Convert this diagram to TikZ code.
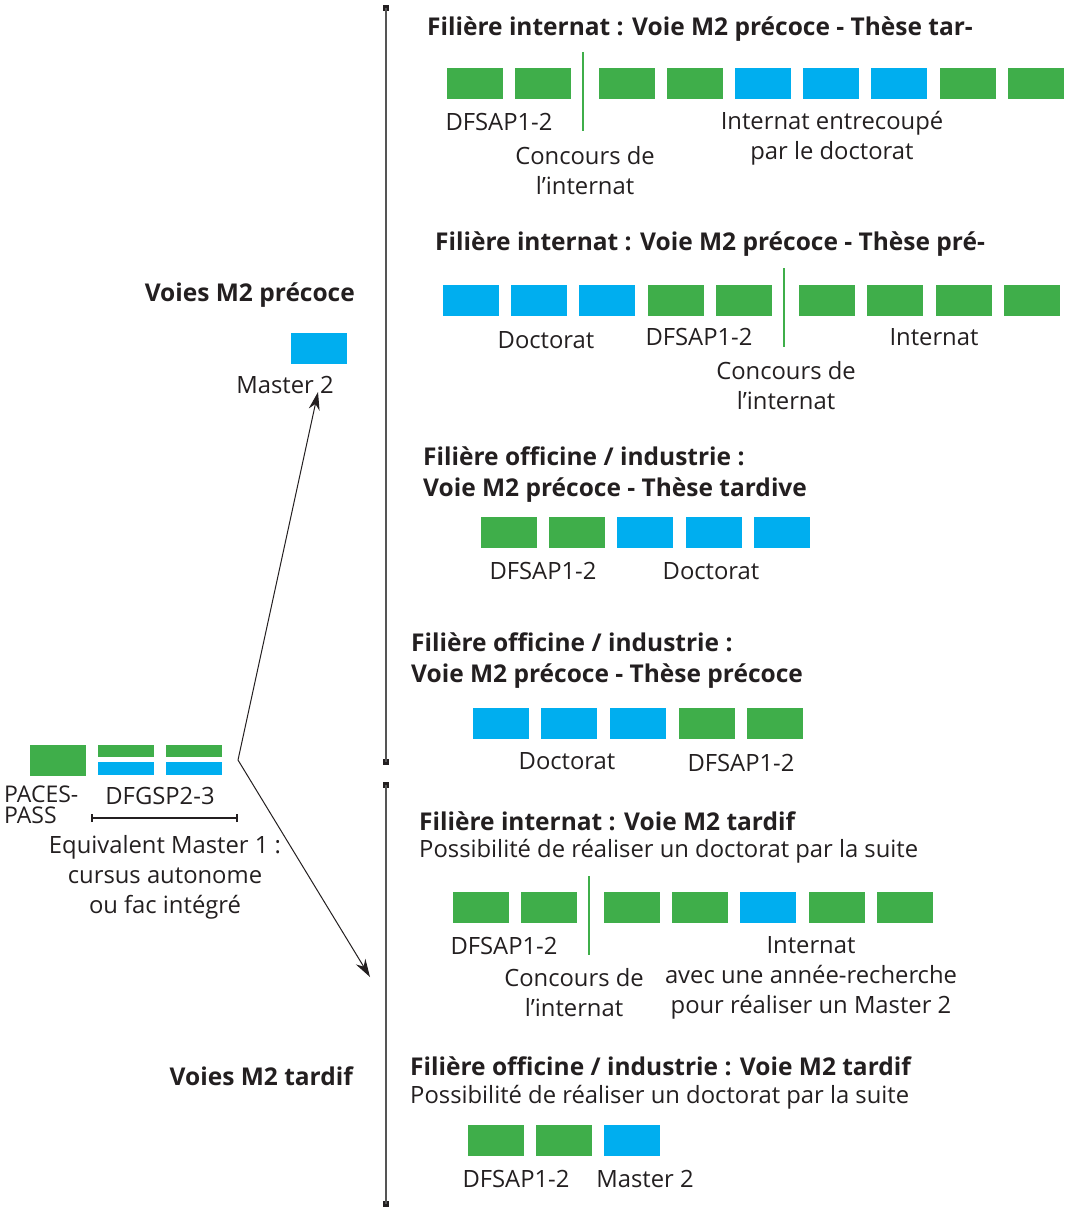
\documentclass[tikz,border=0pt]{standalone}
\usepackage{fontspec}
\setmainfont{Open Sans}
\usetikzlibrary{arrows.meta}
\definecolor{gr}{HTML}{3FAE4A}
\definecolor{bl}{HTML}{00AEEF}
\definecolor{tx}{HTML}{231F20}
\definecolor{vl}{HTML}{555555}
\begin{document}
\begin{tikzpicture}[x=1pt,y=-1pt,
  gbox/.style={fill=gr,minimum width=56pt,minimum height=31pt,inner sep=0pt,anchor=north west},
  bbox/.style={fill=bl,minimum width=56pt,minimum height=31pt,inner sep=0pt,anchor=north west},
  lab/.style={text=tx,inner sep=0pt,align=center,font=\fontsize{23.8}{30}\selectfont},
  ttl/.style={text=tx,inner sep=0pt,anchor=west,align=left,yshift=-2.5pt,font=\fontsize{24.5}{31}\selectfont\bfseries},
  sub/.style={text=tx,inner sep=0pt,anchor=west,align=left,yshift=-2.5pt,font=\fontsize{23.8}{31}\selectfont},
  sep/.style={draw=gr,line width=2pt},
  arr/.style={draw=tx,line width=1pt,-{Stealth[length=18pt,width=11pt]}},
  endsq/.style={fill=tx,minimum size=6pt,inner sep=0pt}
]
\useasboundingbox (0,0) rectangle (1071,1207);

% vertical divider
\node[endsq] (vt) at (386,8) {};
\node[endsq] (vm1) at (386,762) {};
\node[endsq] (vm2) at (386,785) {};
\node[endsq] (vb) at (386,1204) {};
\draw[vl,line width=2pt] (vt.center) -- (vm1.center);
\draw[vl,line width=2pt] (vm2.center) -- (vb.center);

% left part
\node[gbox,minimum height=31pt] (paces) at (30,745) {};
\node[gbox,minimum height=12pt] (s1g) at (98,745) {};
\node[bbox,minimum height=13pt] (s1b) at (98,762) {};
\node[gbox,minimum height=12pt] (s2g) at (166,745) {};
\node[bbox,minimum height=13pt] (s2b) at (166,762) {};
\node[lab,anchor=west,align=left,font=\fontsize{23}{21}\selectfont] (pacesl) at (4,805) {PACES-\\PASS};
\node[lab] (dfgsp) at (160,796) {DFGSP2-3};
\coordinate (brl) at (92,818);
\coordinate (brr) at (237,818);
\draw[tx,line width=1.3pt] (brl) -- (brr);
\draw[tx,line width=1.3pt] ([yshift=-4pt]brl) -- ([yshift=4pt]brl);
\draw[tx,line width=1.3pt] ([yshift=-4pt]brr) -- ([yshift=4pt]brr);
\node[lab] (eqm) at (165,877) {Equivalent Master 1 :\\cursus autonome\\ou fac intégré};

\node[ttl,anchor=east] (vpre) at (355,293) {Voies M2 précoce};
\node[bbox] (m2box) at (291,333) {};
\node[lab] (m2lab) at (285,385) {Master 2};
\node[ttl,anchor=east] (vtar) at (353,1074) {Voies M2 tardif};

\coordinate (split) at (238,760);
\coordinate (uptip) at (318,392);
\coordinate (dntip) at (370,977);
\draw[arr] (split) -- (uptip);
\draw[arr] (split) -- (dntip);

% section 1
\node[ttl] (t1) at (427,27) {Filière internat : Voie M2 précoce - Thèse tar-};
\node[gbox] (a1) at (447,68) {};
\node[gbox] (a2) at (515,68) {};
\node[gbox] (a3) at (599,68) {};
\node[gbox] (a4) at (667,68) {};
\node[bbox] (a5) at (735,68) {};
\node[bbox] (a6) at (803,68) {};
\node[bbox] (a7) at (871,68) {};
\node[gbox] (a8) at (940,68) {};
\node[gbox] (a9) at (1008,68) {};
\coordinate (l1t) at (583,52);
\coordinate (l1b) at (583,131);
\draw[sep] (l1t) -- (l1b);
\node[lab] (a_df) at (499,122) {DFSAP1-2};
\node[lab] (a_cc) at (585,171) {Concours de\\l’internat};
\node[lab] (a_in) at (832,138) {Internat entrecoupé\\par le doctorat};

% section 2
\node[ttl] (t2) at (435,242) {Filière internat : Voie M2 précoce - Thèse pré-};
\node[bbox] (b1) at (443,285) {};
\node[bbox] (b2) at (511,285) {};
\node[bbox] (b3) at (579,285) {};
\node[gbox] (b4) at (648,285) {};
\node[gbox] (b5) at (716,285) {};
\node[gbox] (b6) at (799,285) {};
\node[gbox] (b7) at (867,285) {};
\node[gbox] (b8) at (936,285) {};
\node[gbox] (b9) at (1004,285) {};
\coordinate (l2t) at (784,268);
\coordinate (l2b) at (784,347);
\draw[sep] (l2t) -- (l2b);
\node[lab] (b_doc) at (546,340) {Doctorat};
\node[lab] (b_df) at (699,337) {DFSAP1-2};
\node[lab] (b_in) at (934,337) {Internat};
\node[lab] (b_cc) at (786,386) {Concours de\\l’internat};

% section 3
\node[ttl] (t3) at (423,472) {Filière officine / industrie :\\Voie M2 précoce - Thèse tardive};
\node[gbox] (c1) at (481,517) {};
\node[gbox] (c2) at (549,517) {};
\node[bbox] (c3) at (617,517) {};
\node[bbox] (c4) at (686,517) {};
\node[bbox] (c5) at (754,517) {};
\node[lab] (c_df) at (543,571) {DFSAP1-2};
\node[lab] (c_doc) at (711,571) {Doctorat};

% section 4
\node[ttl] (t4) at (411,658) {Filière officine / industrie :\\Voie M2 précoce - Thèse précoce};
\node[bbox] (d1) at (473,708) {};
\node[bbox] (d2) at (541,708) {};
\node[bbox] (d3) at (610,708) {};
\node[gbox] (d4) at (679,708) {};
\node[gbox] (d5) at (747,708) {};
\node[lab] (d_doc) at (567,761) {Doctorat};
\node[lab] (d_df) at (741,763) {DFSAP1-2};

% section 5
\node[ttl] (t5) at (419,819) {Filière internat : Voie M2 tardif};
\node[sub] (t5s) at (419,849) {Possibilité de réaliser un doctorat par la suite};
\node[gbox] (e1) at (453,892) {};
\node[gbox] (e2) at (521,892) {};
\node[gbox] (e3) at (604,892) {};
\node[gbox] (e4) at (672,892) {};
\node[bbox] (e5) at (740,892) {};
\node[gbox] (e6) at (809,892) {};
\node[gbox] (e7) at (877,892) {};
\coordinate (l5t) at (589,876);
\coordinate (l5b) at (589,955);
\draw[sep] (l5t) -- (l5b);
\node[lab] (e_df) at (504,946) {DFSAP1-2};
\node[lab] (e_cc) at (574,993) {Concours de\\l’internat};
\node[lab] (e_in) at (811,978) {Internat\\avec une année-recherche\\pour réaliser un Master 2};

% section 6
\node[ttl] (t6) at (410,1064) {Filière officine / industrie : Voie M2 tardif};
\node[sub] (t6s) at (410,1095) {Possibilité de réaliser un doctorat par la suite};
\node[gbox] (f1) at (468,1125) {};
\node[gbox] (f2) at (536,1125) {};
\node[bbox] (f3) at (604,1125) {};
\node[lab] (f_df) at (516,1179) {DFSAP1-2};
\node[lab] (f_m2) at (645,1179) {Master 2};
\end{tikzpicture}
\end{document}
